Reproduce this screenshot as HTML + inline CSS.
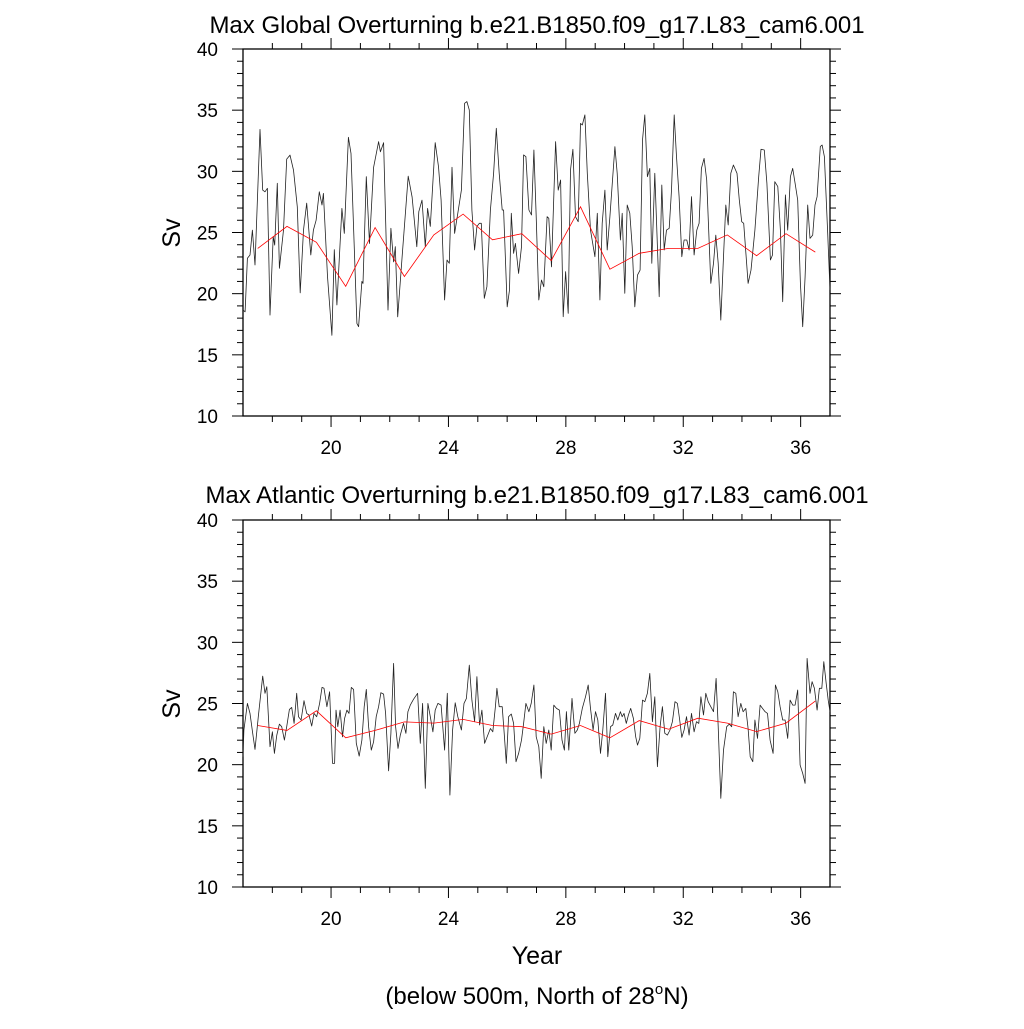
<!DOCTYPE html>
<html><head><meta charset="utf-8"><style>
html,body{margin:0;padding:0;background:#fff;}
svg text{font-family:"Liberation Sans",Arial,sans-serif;fill:#000;}
</style></head><body>
<svg id="chart" width="1024" height="1024" xmlns="http://www.w3.org/2000/svg">
<text x="537" y="33" font-size="24" text-anchor="middle">Max Global Overturning b.e21.B1850.f09_g17.L83_cam6.001</text>
<text x="537" y="503" font-size="24" text-anchor="middle">Max Atlantic Overturning b.e21.B1850.f09_g17.L83_cam6.001</text>
<text transform="translate(180,233) rotate(-90)" font-size="25" text-anchor="middle">Sv</text>
<text transform="translate(180,704) rotate(-90)" font-size="25" text-anchor="middle">Sv</text>
<text x="537" y="964" font-size="25" text-anchor="middle">Year</text>
<text x="537" y="1004" font-size="24" text-anchor="middle">(below 500m, North of 28<tspan font-size="15" dy="-10">o</tspan><tspan dy="10">N)</tspan></text>
</svg>
<script>
// Global panel: monthly series (sampled)
const gYears = [17.0,17.07,17.15,17.24,17.32,17.41,17.58,17.67,17.75,17.83,17.92,18.03,18.08,18.17,18.24,18.38,18.49,18.60,18.72,18.85,18.95,19.06,19.17,19.31,19.40,19.49,19.60,19.69,19.74,19.88,20.03,20.11,20.20,20.37,20.45,20.59,20.68,20.88,20.94,21.05,21.09,21.20,21.31,21.45,21.62,21.68,21.79,21.94,22.04,22.13,22.19,22.27,22.42,22.63,22.76,22.92,22.99,23.10,23.21,23.29,23.38,
23.55,23.66,23.75,23.87,23.95,24.03,24.12,24.21,24.32,24.44,24.55,24.63,24.71,24.80,24.89,24.97,25.05,25.12,25.22,25.31,25.43,25.54,25.63,25.73,25.83,25.88,26.00,26.08,26.14,26.22,26.28,26.39,26.49,26.56,26.64,26.74,26.83,26.91,26.99,27.08,27.17,27.25,27.36,27.42,27.51,27.65,27.74,27.82,27.91,27.99,28.08,28.16,28.24,28.33,28.42,28.50,28.56,28.65,28.73,28.84,28.99,29.07,29.16,29.24,29.33,29.41,29.50,29.67,29.75,29.86,29.92,30.01,30.09,30.18,30.26,30.35,
30.44,30.53,30.61,30.69,30.78,30.86,30.93,31.03,31.18,31.27,31.35,31.43,31.52,31.60,31.69,31.77,31.86,31.95,32.03,32.12,32.20,32.28,32.37,32.46,32.54,32.62,32.71,32.80,32.94,33.03,33.11,33.19,33.28,33.37,33.45,33.53,33.62,33.71,33.83,33.91,33.99,34.06,34.21,34.31,34.44,34.57,34.65,34.76,34.85,34.97,35.04,35.12,35.22,35.31,35.39,35.48,35.56,35.65,35.73,35.81,35.90,35.99,36.07,36.15,36.24,36.32,36.41,36.49,36.56,36.67,36.73,36.81,36.92,37.0];
const gValues = [18.66,18.52,22.89,23.16,25.20,22.34,33.43,28.47,28.33,28.61,18.25,24.66,23.97,29.02,22.07,25.20,31.0,31.33,30.1,27.1,20.07,25.2,27.4,23.16,25.2,26.0,28.33,27.25,28.2,21.4,16.6,23.6,19.07,26.97,24.93,32.78,31.47,17.57,17.3,21.0,20.84,29.57,24.1,30.33,32.42,31.6,32.34,18.66,25.34,22.6,23.84,18.1,23.0,29.6,27.9,23.84,26.7,27.65,23.84,26.97,25.5,
32.34,30.38,27.66,19.48,22.75,22.48,30.33,24.93,26.57,28.47,35.56,35.70,35.01,26.84,23.57,25.48,25.75,25.75,19.62,20.57,26.84,29.84,33.52,29.84,26.84,26.84,18.93,20.30,26.57,23.30,24.11,21.66,23.84,31.34,31.2,26.84,26.43,31.74,26.29,19.48,21.12,20.57,26.29,26.16,22.2,32.43,28.47,29.29,18.12,21.8,18.39,30.11,31.8,26.29,25.88,33.92,33.79,34.61,29.84,25.2,23.02,26.57,19.48,25.75,28.47,23.57,26.29,32.02,29.84,24.39,26.57,20.03,27.25,26.57,23.84,18.93,
21.52,21.93,32.56,34.61,29.56,30.24,22.48,29.84,19.75,28.88,23.57,25.2,25.34,28.47,34.61,31.2,27.93,23.02,24.39,24.39,23.57,27.93,23.16,25.2,25.75,30.24,31.06,29.29,20.84,22.48,24.79,22.48,17.84,23.02,27.25,25.61,29.84,30.52,29.84,27.66,25.88,25.75,20.84,21.93,25.2,29.56,31.8,31.74,29.02,22.75,23.16,29.15,28.75,25.2,19.34,28.07,25.2,29.56,30.24,29.02,27.66,20.84,17.3,21.39,27.25,24.52,24.79,27.25,27.93,32.02,32.15,31.2,24.93,20.3];
const annualYears = [17.5,18.5,19.5,20.5,21.5,22.5,23.5,24.5,25.5,26.5,27.5,28.5,29.5,30.5,31.5,32.5,33.5,34.5,35.5,36.5];
const gAnnual = [23.7,25.5,24.2,20.6,25.4,21.4,24.8,26.5,24.4,24.9,22.7,27.1,22.0,23.3,23.7,23.7,24.8,23.1,24.9,23.4];
// Atlantic panel
const aYears = [17.0,17.03,17.15,17.24,17.33,17.41,17.52,17.67,17.75,17.81,17.92,18.00,18.07,18.15,18.24,18.32,18.41,18.49,18.58,18.66,18.74,18.83,18.89,18.98,19.08,19.17,19.25,19.34,19.42,19.51,19.61,19.69,19.76,19.86,19.95,20.05,20.12,20.17,20.23,20.31,20.39,20.46,20.54,20.61,20.69,20.77,20.86,20.96,21.05,21.13,21.20,21.28,21.37,21.45,21.54,21.62,21.70,21.79,21.86,21.96,22.04,22.13,22.20,22.28,22.36,22.47,22.55,22.62,22.70,22.81,22.95,23.04,23.12,23.21,23.30,23.38,23.47,
23.55,23.64,23.75,23.87,23.96,24.05,24.14,24.23,24.32,24.44,24.53,24.61,24.71,24.80,24.89,24.97,25.06,25.14,25.23,25.34,25.43,25.51,25.60,25.65,25.73,25.83,25.90,25.97,26.05,26.14,26.22,26.30,26.39,26.49,26.56,26.64,26.74,26.82,26.91,26.99,27.08,27.16,27.25,27.33,27.42,27.50,27.59,27.68,27.78,27.87,27.95,28.02,28.10,28.21,28.31,28.39,28.46,28.56,28.67,28.76,28.84,28.93,29.01,29.09,29.18,29.26,29.35,29.43,29.52,29.60,29.69,29.77,29.86,29.92,29.98,30.06,30.13,
30.21,30.30,30.38,30.44,30.52,30.61,30.69,30.78,30.86,30.95,31.03,31.12,31.21,31.29,31.37,31.46,31.55,31.63,31.72,31.80,31.88,31.95,32.03,32.11,32.20,32.28,32.37,32.45,32.53,32.60,32.69,32.77,32.85,32.94,33.03,33.12,33.19,33.28,33.37,33.48,33.57,33.65,33.71,33.79,33.87,33.96,34.04,34.13,34.21,34.28,34.37,34.44,34.53,34.62,34.70,34.79,34.87,34.96,35.06,35.14,35.22,35.30,35.39,35.47,35.56,35.64,35.73,35.81,35.90,35.98,36.07,36.15,36.22,36.32,36.39,36.47,36.56,36.64,36.72,36.79,36.87,36.94,37.0];
const aValues = [20.65,22.83,25.01,24.19,22.56,21.25,23.92,27.24,25.83,26.37,21.47,22.69,20.92,22.42,23.32,23.1,22.01,23.1,24.52,24.68,23.37,25.83,23.92,23.65,25.23,24.19,24.06,23.16,24.19,23.92,25.01,26.32,26.24,24.74,25.96,20.1,20.1,24.46,23.1,24.46,22.28,23.78,24.46,24.19,26.32,26.15,21.74,20.7,22.01,24.74,26.15,23.1,21.19,21.87,23.92,24.74,25.88,25.77,24.19,19.5,22.56,28.28,23.1,21.33,22.42,23.37,22.56,24.33,24.87,25.34,25.83,21.74,25.01,18.06,25.01,23.92,22.69,
24.46,25.01,24.87,21.19,25.83,17.51,22.83,25.06,23.92,22.83,25.01,25.42,28.14,25.28,23.51,27.19,23.24,24.46,21.74,22.42,22.96,22.69,24.74,26.24,24.74,24.74,22.56,20.1,23.92,24.14,23.37,20.24,20.92,22.01,23.37,25.01,24.33,25.01,26.51,22.28,21.47,18.88,23.1,21.74,22.83,21.19,24.87,24.6,24.46,22.01,21.19,24.33,21.19,25.42,22.56,22.83,23.37,24.6,25.55,26.51,24.6,22.83,24.33,23.65,20.92,22.83,25.83,20.65,23.1,23.24,24.19,23.65,24.33,23.92,24.19,23.37,24.06,
24.6,23.78,22.28,21.6,22.15,25.28,25.15,25.83,27.46,23.51,25.55,19.83,23.1,24.74,22.56,22.42,22.83,23.51,25.15,25.01,23.65,22.23,22.83,23.92,22.42,24.19,22.69,23.51,23.37,25.55,24.06,25.83,25.15,24.74,24.33,27.05,23.1,17.24,21.19,23.1,23.32,23.1,25.96,25.83,23.92,25.01,24.33,24.6,22.96,20.65,20.24,23.65,22.15,24.87,24.6,24.33,24.19,22.01,20.92,26.51,25.96,24.74,23.65,23.65,22.15,25.28,24.87,24.87,26.1,19.97,19.29,18.47,28.69,25.83,26.78,26.24,24.46,26.24,26.24,28.42,26.64,25.28,24.33];
const aAnnual = [23.2,22.8,24.4,22.2,22.8,23.5,23.4,23.7,23.2,23.1,22.5,23.2,22.2,23.6,22.9,23.8,23.4,22.7,23.4,25.2];
const xTicks = [20,24,28,32,36];
const yTicks = [10,15,20,25,30,35,40];

const NS='http://www.w3.org/2000/svg';
const svg=document.getElementById('chart');
const X0=243,X1=830,XMIN=17,XMAX=37;
const xs=v=>X0+(v-XMIN)/(XMAX-XMIN)*(X1-X0);
function mk(tag,attrs,parent){const e=document.createElementNS(NS,tag);for(const k in attrs)e.setAttribute(k,attrs[k]);(parent||svg).appendChild(e);return e;}

function panel(top,bottom,key,years,vals,annual){
  const ys=v=>bottom-(v-10)/30*(bottom-top);
  const g=mk('g',{});
  
  
  for(let v=10;v<=40;v++){
    const major=v%5===0, L=major?11:6, y=ys(v);
    const t1=mk('line',{x1:X0-L,x2:X0,y1:y,y2:y,stroke:'#000','stroke-width':1},g);
    
    
    const t2=mk('line',{x1:X1,x2:X1+L,y1:y,y2:y,stroke:'#000','stroke-width':1},g);
    
    
  }
  yTicks.forEach(v=>{
    const t=mk('text',{x:X0-25,y:ys(v)+7,'font-size':19,'text-anchor':'end'},g);
    t.textContent=v;
    
    
  });
  for(let v=18;v<=36;v++){
    const major=v%4===0, L=major?11:6, x=xs(v);
    const t1=mk('line',{x1:x,x2:x,y1:bottom,y2:bottom+L,stroke:'#000','stroke-width':1},g);
    
    
    const t2=mk('line',{x1:x,x2:x,y1:top-L,y2:top,stroke:'#000','stroke-width':1},g);
    
    
  }
  xTicks.forEach(v=>{
    const t=mk('text',{x:xs(v),y:bottom+38,'font-size':19,'text-anchor':'middle'},g);
    t.textContent=v;
    
    
  });
  const fr=mk('rect',{x:X0,y:top,width:X1-X0,height:bottom-top,fill:'none',stroke:'#000','stroke-width':1.3},g);
  
  
  const p=mk('polyline',{points:years.map((t,i)=>xs(t).toFixed(1)+','+ys(vals[i]).toFixed(1)).join(' '),fill:'none',stroke:'#222','stroke-width':0.8,'stroke-linejoin':'round'},g);
  
  
  const r=mk('polyline',{points:annualYears.map((t,i)=>xs(t).toFixed(1)+','+ys(annual[i]).toFixed(1)).join(' '),fill:'none',stroke:'#ff0000','stroke-width':0.8},g);
  
  
}
panel(49,416,'global',gYears,gValues,gAnnual);
panel(520,887,'atlantic',aYears,aValues,aAnnual);
</script>
</body></html>
